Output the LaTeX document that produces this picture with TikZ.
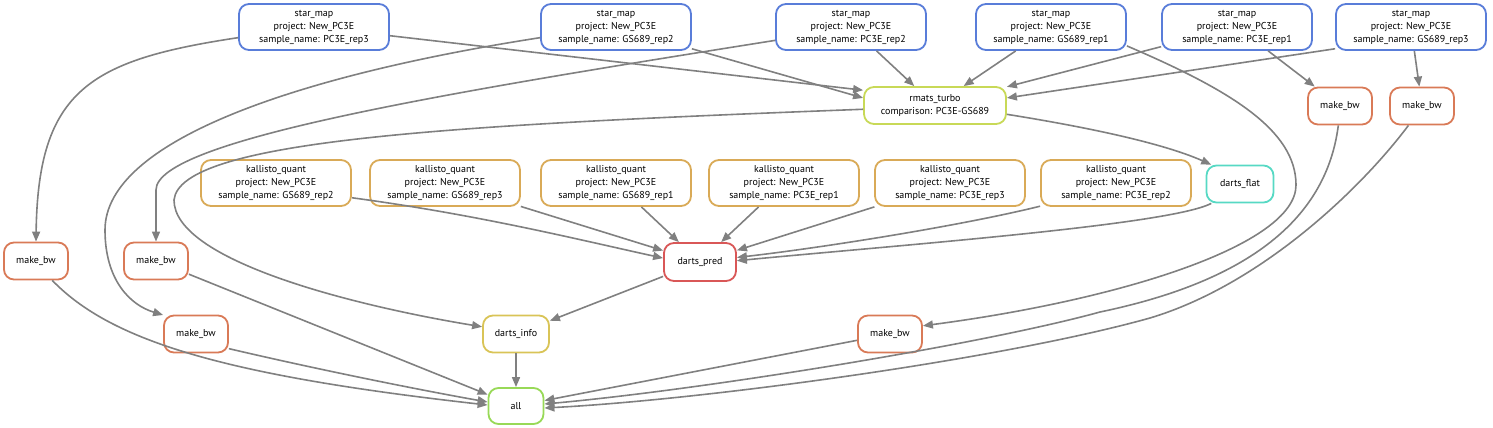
\documentclass[tikz,border=0pt]{standalone}
\usepackage{fontspec}
\setmainfont{PT Sans}
\usepackage{tikz}
\usetikzlibrary{arrows.meta}

\definecolor{starcol}{RGB}{89,125,217}
\definecolor{bwcol}{RGB}{217,122,87}
\definecolor{kalcol}{RGB}{217,170,87}
\definecolor{rmatscol}{RGB}{200,217,87}
\definecolor{infocol}{RGB}{217,196,87}
\definecolor{predcol}{RGB}{217,87,87}
\definecolor{flatcol}{RGB}{87,217,196}
\definecolor{allcol}{RGB}{152,217,87}

\begin{document}
\begin{tikzpicture}[x=1pt, y=-1pt,
    rule/.style={draw=#1, line width=1.8pt, rounded corners=10pt, fill=white,
      align=center, inner sep=0pt, font=\fontsize{10}{13}\selectfont},
    big/.style={rule=#1, minimum width=150pt, minimum height=46pt},
    small/.style={rule=#1, minimum width=64pt, minimum height=37pt},
    edge/.style={draw=gray, line width=1.6pt, -{Triangle[length=10pt,width=8pt]}}]
    \useasboundingbox (0,0) rectangle (1493,428);
    % star_map row
    \node[big=starcol] (S1) at (314,27) {star\_map\\project: New\_PC3E\\sample\_name: PC3E\_rep3};
    \node[big=starcol] (S2) at (616,27) {star\_map\\project: New\_PC3E\\sample\_name: GS689\_rep2};
    \node[big=starcol] (S3) at (851,27) {star\_map\\project: New\_PC3E\\sample\_name: PC3E\_rep2};
    \node[big=starcol] (S4) at (1051,27) {star\_map\\project: New\_PC3E\\sample\_name: GS689\_rep1};
    \node[big=starcol] (S5) at (1237,27) {star\_map\\project: New\_PC3E\\sample\_name: PC3E\_rep1};
    \node[big=starcol] (S6) at (1411,27) {star\_map\\project: New\_PC3E\\sample\_name: GS689\_rep3};
    \node[rule=rmatscol, minimum width=142pt, minimum height=37pt] (R) at (935,105.5) {rmats\_turbo\\comparison: PC3E-GS689};
    \node[small=bwcol] (B5) at (1340,106) {make\_bw};
    \node[small=bwcol] (B6) at (1422,106) {make\_bw};
    % kallisto row
    \node[big=kalcol] (K1) at (276,183) {kallisto\_quant\\project: New\_PC3E\\sample\_name: GS689\_rep2};
    \node[big=kalcol] (K2) at (445,183) {kallisto\_quant\\project: New\_PC3E\\sample\_name: GS689\_rep3};
    \node[big=kalcol] (K3) at (616,183) {kallisto\_quant\\project: New\_PC3E\\sample\_name: GS689\_rep1};
    \node[big=kalcol] (K4) at (784,183) {kallisto\_quant\\project: New\_PC3E\\sample\_name: PC3E\_rep1};
    \node[big=kalcol] (K5) at (950,183) {kallisto\_quant\\project: New\_PC3E\\sample\_name: PC3E\_rep3};
    \node[big=kalcol] (K6) at (1116,183) {kallisto\_quant\\project: New\_PC3E\\sample\_name: PC3E\_rep2};
    \node[small=flatcol, minimum width=67pt] (F) at (1240,184) {darts\_flat};
    \node[small=bwcol] (B1) at (36,261) {make\_bw};
    \node[small=bwcol] (B2) at (156,261) {make\_bw};
    \node[small=predcol, minimum width=72pt, minimum height=38pt] (P) at (700,262) {darts\_pred};
    \node[small=bwcol] (B3) at (196,334) {make\_bw};
    \node[small=infocol, minimum width=66pt] (I) at (516,334) {darts\_info};
    \node[small=bwcol] (B4) at (890,334) {make\_bw};
    \node[small=allcol, minimum width=55pt, minimum height=36pt] (A) at (516,406) {all};
    % star_map out
    \draw[edge] (S1.188) .. controls (90,60) and (38,90) .. (B1.north);
    \draw[edge] (S1) -- (R.168);
    \draw[edge] (S2.188) .. controls (300,75) and (105,140) .. (105,230) .. controls (105,280) and (130,305) .. (B3.150);
    \draw[edge] (S2) -- (R.174);
    \draw[edge] (S3.190) .. controls (450,92) and (156,140) .. (156,190) -- (B2.north);
    \draw[edge] (S3) -- (R);
    \draw[edge] (S4) -- (R);
    \draw[edge] (S4.-14) .. controls (1230,90) and (1296,130) .. (1296,185) .. controls (1296,245) and (1120,300) .. (B4.14);
    \draw[edge] (S5) -- (R);
    \draw[edge] (S5) -- (B5);
    \draw[edge] (S6.196) -- (R.6);
    \draw[edge] (S6) -- (B6);
    % rmats and darts
    \draw[edge] (R.-7) .. controls (1080,126) and (1160,142) .. (F.146);
    \draw[edge] (R.183) .. controls (450,125) and (180,140) .. (174,200) .. controls (174,260) and (350,305) .. (I.168);
    \draw[edge] (K1.-11) .. controls (480,215) and (580,240) .. (P.174);
    \draw[edge] (K2) -- (P);
    \draw[edge] (K3) -- (P);
    \draw[edge] (K4) -- (P);
    \draw[edge] (K5) -- (P);
    \draw[edge] (K6.197) .. controls (960,226) and (820,248) .. (P.7);
    \draw[edge] (F.214) .. controls (1170,225) and (900,245) .. (P.2);
    \draw[edge] (P) -- (I);
    \draw[edge] (I) -- (A);
    % make_bw into all
    \draw[edge] (B1.-50) .. controls (110,340) and (220,375) .. (A.178);
    \draw[edge] (B2) -- (A);
    \draw[edge] (B3.-24) .. controls (320,370) and (420,390) .. (A.172);
    \draw[edge] (B4) -- (A);
    \draw[edge] (B5.-95) .. controls (1325,230) and (1230,285) .. (1100,312) .. controls (980,345) and (700,390) .. (A.4);
    \draw[edge] (B6.-125) .. controls (1360,190) and (1260,285) .. (1150,318) .. controls (1000,360) and (700,400) .. (A.-4);
\end{tikzpicture}
\end{document}
